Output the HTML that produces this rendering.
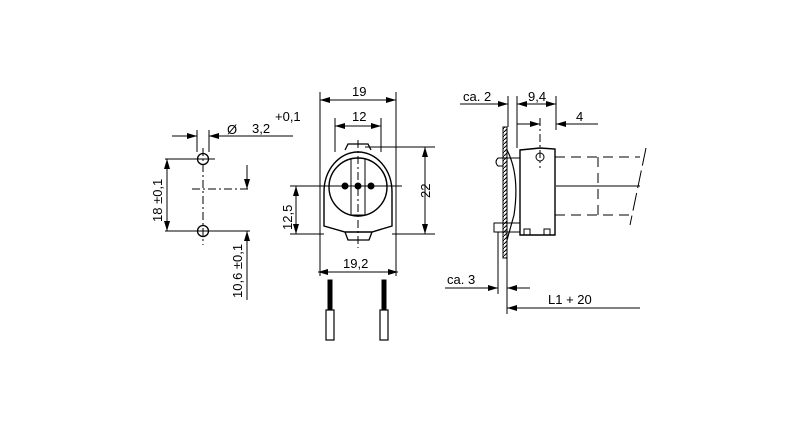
<!DOCTYPE html>
<html><head><meta charset="utf-8"><style>
html,body{margin:0;padding:0;background:#fff;}
svg{display:block}
text{font-family:"Liberation Sans",sans-serif;font-size:13px;fill:#000}
</style></head><body>
<svg width="800" height="429" viewBox="0 0 800 429" xmlns="http://www.w3.org/2000/svg">
<defs>
<marker id="a" viewBox="0 0 10 6" refX="10" refY="3" markerWidth="10" markerHeight="6" orient="auto-start-reverse" markerUnits="userSpaceOnUse"><path d="M0,0L10,3L0,6z" fill="#000"/></marker>
<pattern id="h" width="4" height="4" patternUnits="userSpaceOnUse"><rect width="4" height="4" fill="#fff"/><path d="M0,4L4,0" stroke="#000" stroke-width="1"/></pattern>
</defs>
<g stroke="#000" stroke-width="1" fill="none">
<circle cx="203" cy="159" r="5.5" stroke-width="1.3"/>
<circle cx="203" cy="231" r="5.5" stroke-width="1.3"/>
<line x1="203" y1="148" x2="203" y2="245" stroke-dasharray="8,3,2,3"/>
<line x1="192" y1="189" x2="250" y2="189" stroke-dasharray="8,3,2,3"/>
<line x1="197" y1="130" x2="197" y2="152"/><line x1="209" y1="130" x2="209" y2="152"/>
<line x1="172" y1="136" x2="197" y2="136" marker-end="url(#a)"/>
<line x1="293" y1="136" x2="209" y2="136" marker-end="url(#a)"/>
<line x1="165" y1="159" x2="215" y2="159"/><line x1="165" y1="231" x2="250" y2="231"/>
<line x1="167" y1="159" x2="167" y2="231" marker-start="url(#a)" marker-end="url(#a)"/>
<line x1="247" y1="165" x2="247" y2="189" marker-end="url(#a)"/>
<line x1="247" y1="300" x2="247" y2="231" marker-end="url(#a)"/>
<line x1="320" y1="92" x2="320" y2="276"/><line x1="396" y1="92" x2="396" y2="276"/>
<line x1="320" y1="100" x2="396" y2="100" marker-start="url(#a)" marker-end="url(#a)"/>
<line x1="335" y1="118" x2="335" y2="152"/><line x1="381" y1="118" x2="381" y2="152"/>
<line x1="335" y1="126" x2="381" y2="126" marker-start="url(#a)" marker-end="url(#a)"/>
<path d="M324,226 L324,192 A34,40 0 0 1 392,192 L392,226 L372,232 L345,232 Z" stroke-width="1.4"/>
<path d="M345,150 L348,144 L368,144 L371,150" stroke-width="1.3"/>
<path d="M345,232 L348,240 L369,240 L372,232" stroke-width="1.3"/>
<circle cx="358" cy="187" r="29" stroke-width="1.4"/>
<path d="M351,158 L351,215 L365,215 L365,158" stroke-width="1"/>
<circle cx="345" cy="186" r="3" fill="#000"/><circle cx="358" cy="186" r="3" fill="#000"/><circle cx="371" cy="186" r="3" fill="#000"/>
<line x1="358" y1="140" x2="358" y2="248" stroke-dasharray="8,3,2,3"/>
<line x1="290" y1="186" x2="402" y2="186"/>
<line x1="365" y1="147" x2="435" y2="147"/><line x1="392" y1="234" x2="435" y2="234"/>
<line x1="425" y1="147" x2="425" y2="234" marker-start="url(#a)" marker-end="url(#a)"/>
<line x1="290" y1="234" x2="324" y2="234"/>
<line x1="296" y1="186" x2="296" y2="234" marker-start="url(#a)" marker-end="url(#a)"/>
<line x1="318" y1="272" x2="398" y2="272" marker-start="url(#a)" marker-end="url(#a)"/>
<rect x="328" y="280" width="4" height="30" fill="#000"/>
<rect x="382" y="280" width="4" height="30" fill="#000"/>
<rect x="326" y="310" width="8" height="30" stroke-width="1.2"/>
<rect x="380" y="310" width="8" height="30" stroke-width="1.2"/>
<rect x="503" y="127" width="4" height="131" fill="url(#h)" stroke-width="1"/>
<path d="M520,150 L540,148 L555,149 L555,235 L520,235 Z" stroke-width="1.4"/>
<path d="M507,150 Q520,175 514,215 L507,240" stroke-width="1.2"/>
<rect x="494" y="223" width="26" height="9" stroke-width="1"/>
<path d="M520,158 L498,158 Q494,162 498,166 L503,166" stroke-width="1"/>
<rect x="524" y="229" width="6" height="6"/><rect x="544" y="229" width="6" height="6"/>
<circle cx="540" cy="157" r="4"/>
<line x1="540" y1="118" x2="540" y2="168" stroke-dasharray="8,3,2,3"/>
<line x1="508" y1="96" x2="508" y2="127"/><line x1="517" y1="96" x2="517" y2="148"/>
<line x1="556" y1="96" x2="556" y2="130"/>
<line x1="460" y1="104" x2="508" y2="104" marker-end="url(#a)"/>
<line x1="517" y1="104" x2="556" y2="104" marker-start="url(#a)" marker-end="url(#a)"/>
<line x1="517" y1="124" x2="540" y2="124" marker-end="url(#a)"/>
<line x1="598" y1="124" x2="556" y2="124" marker-end="url(#a)"/>
<line x1="498" y1="232" x2="498" y2="294"/><line x1="507" y1="258" x2="507" y2="314"/>
<line x1="445" y1="288" x2="498" y2="288" marker-end="url(#a)"/>
<line x1="530" y1="288" x2="507" y2="288" marker-end="url(#a)"/>
<line x1="640" y1="308" x2="507" y2="308" marker-end="url(#a)"/>
<line x1="555" y1="157" x2="640" y2="157" stroke-dasharray="10,6"/>
<line x1="555" y1="215" x2="632" y2="215" stroke-dasharray="10,6"/>
<line x1="598" y1="157" x2="598" y2="215" stroke-dasharray="10,6"/>
<line x1="556" y1="186" x2="640" y2="186"/>
<line x1="646" y1="148" x2="630" y2="225" stroke-dasharray="18,5"/>
</g>
<text x="227" y="134" font-size="17">Ø</text>
<text x="252" y="133">3,2</text>
<text x="275" y="121" font-size="9">+0,1</text>
<text transform="translate(162,222) rotate(-90)">18 ±0,1</text>
<text transform="translate(242,298) rotate(-90)">10,6 ±0,1</text>
<text x="352" y="96">19</text>
<text x="352" y="121">12</text>
<text transform="translate(292,230) rotate(-90)">12,5</text>
<text transform="translate(430,198) rotate(-90)">22</text>
<text x="343" y="268">19,2</text>
<text x="463" y="101">ca. 2</text>
<text x="528" y="101">9,4</text>
<text x="576" y="121">4</text>
<text x="447" y="284">ca. 3</text>
<text x="548" y="304">L1 + 20</text>
</svg>
</body></html>
